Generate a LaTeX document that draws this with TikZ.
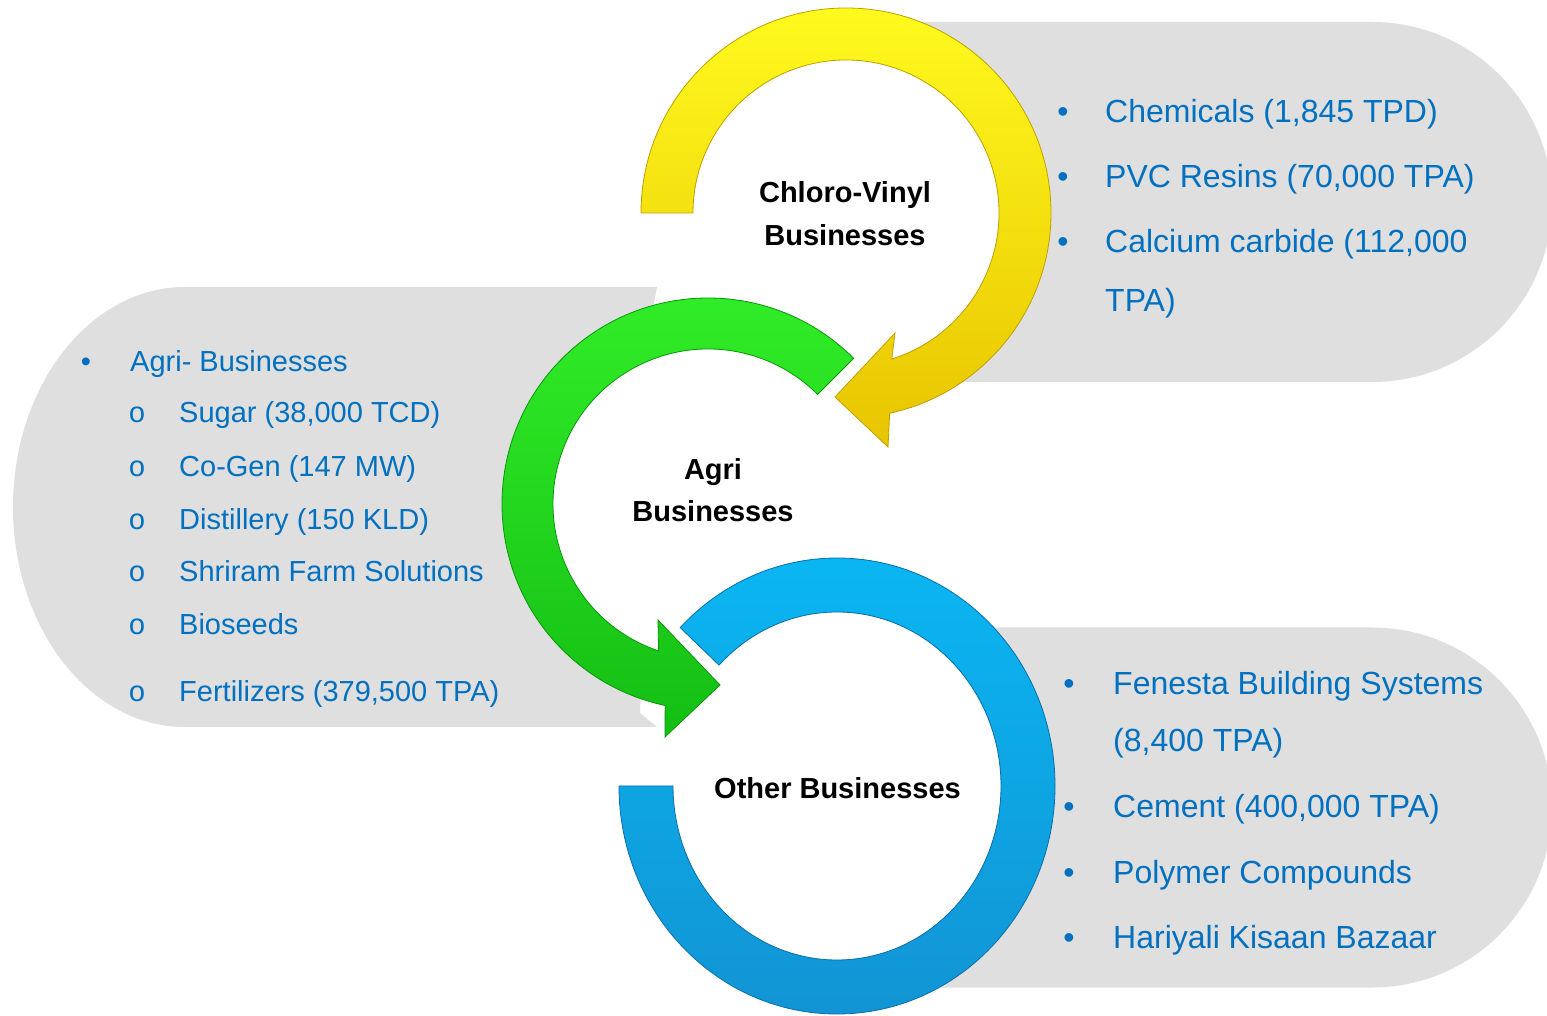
\documentclass[tikz,border=0pt]{standalone}
\usepackage{fontspec}
\setmainfont{Liberation Sans}
\newfontfamily\monofont{Liberation Mono}
\definecolor{greybg}{RGB}{223,223,223}
\definecolor{txtblue}{RGB}{0,112,192}
\definecolor{ytop}{RGB}{255,250,30}
\definecolor{ybot}{RGB}{232,196,0}
\definecolor{yedge}{RGB}{190,160,0}
\definecolor{gtop}{RGB}{50,238,40}
\definecolor{gbot}{RGB}{20,190,20}
\definecolor{gedge}{RGB}{10,150,10}
\definecolor{btop}{RGB}{10,182,242}
\definecolor{bbot}{RGB}{18,148,212}
\definecolor{bedge}{RGB}{10,110,170}
\tikzset{
  lab/.style={font=\fontsize{29}{35}\selectfont\bfseries, anchor=base, inner sep=0pt, text=black},
  itemR/.style={font=\fontsize{32}{38}\selectfont, anchor=base west, inner sep=0pt, text=txtblue},
  itemL/.style={font=\fontsize{29}{35}\selectfont, anchor=base west, inner sep=0pt, text=txtblue},
  bulR/.style={font=\fontsize{32}{38}\selectfont, anchor=base, inner sep=0pt, text=txtblue},
  bulL/.style={font=\fontsize{29}{35}\selectfont, anchor=base, inner sep=0pt, text=txtblue},
  subL/.style={font=\monofont\fontsize{29}{35}\selectfont, anchor=base, inner sep=0pt, text=txtblue},
  yring/.style={top color=ytop, bottom color=ybot, draw=yedge, line width=0.8pt},
  gring/.style={top color=gtop, bottom color=gbot, draw=gedge, line width=0.8pt},
  bring/.style={top color=btop, bottom color=bbot, draw=bedge, line width=0.8pt},
}
\begin{document}
\begin{tikzpicture}[x=1pt,y=1pt]
\useasboundingbox (0,0) rectangle (1547,1015);
\fill[white] (0,0) rectangle (1547,1015);

% grey panels
\fill[greybg] (900,993) -- (1372,993) arc[start angle=90,end angle=-90,radius=180] -- (900,633) -- cycle;
\fill[greybg] (905,387.5) -- (1372,387.5) arc[start angle=90,end angle=-90,radius=180] -- (905,27.5) -- cycle;
\fill[greybg] (185,728) -- (657,728) -- (650,690) -- (640,302) -- (657,288) -- (185,288)
   arc[start angle=-90,end angle=-270,x radius=172,y radius=220] -- cycle;

% centres
\coordinate (yc) at (846,802);
\coordinate (gc) at (708,511);
\coordinate (bc) at (837,229);

% white interiors
\fill[white] (yc) circle[radius=153];
\fill[white] (gc) circle[radius=155];
\fill[white] (bc) ellipse[x radius=164,y radius=174];

% yellow arrow
\coordinate (yob) at (888,568);
\coordinate (ytip) at (835,618);
\coordinate (yib) at (895,682);
\path[yring] ([shift={(180:205)}]yc) arc[start angle=180,end angle=-77.7,radius=205]
   -- (yob) -- (ytip) -- (yib) -- ([shift={(-72.6:153)}]yc)
   arc[start angle=-72.6,end angle=180,radius=153] -- cycle;

% green arrow
\coordinate (gob) at (665,278);
\coordinate (gtip) at (720,330);
\coordinate (gib) at (658,395);
\path[gring] ([shift={(45:206)}]gc) arc[start angle=45,end angle=258,radius=206]
   -- (gob) -- (gtip) -- (gib) -- ([shift={(251.4:155)}]gc)
   arc[start angle=251.4,end angle=45,radius=155] -- cycle;

% blue ring
\path[bring] ([shift={(180:218 and 228)}]bc) arc[start angle=180,end angle=496,x radius=218,y radius=228]
   -- ([shift={(136:164 and 174)}]bc)
   arc[start angle=136,end angle=-180,x radius=164,y radius=174] -- cycle;

% centre labels
\node[lab] (cv1) at (845,812) {Chloro-Vinyl};
\node[lab] (cv2) at (845,769) {Businesses};
\node[lab] (ag1) at (713,535) {Agri};
\node[lab] (ag2) at (713,493) {Businesses};
\node[lab] (ot)  at (837.5,216) {Other Businesses};

% top-right list
\node[bulR] (tb1) at (1063,892) {•};
\node[bulR] (tb2) at (1063,827) {•};
\node[bulR] (tb3) at (1063,762) {•};
\node[itemR] (t1) at (1105,892) {Chemicals (1,845 TPD)};
\node[itemR] (t2) at (1105,827) {PVC Resins (70,000 TPA)};
\node[itemR] (t3) at (1105,762) {Calcium carbide (112,000};
\node[itemR] (t4) at (1105,703) {TPA)};

% bottom-right list
\node[bulR] (bb1) at (1069,320) {•};
\node[bulR] (bb2) at (1069,197) {•};
\node[bulR] (bb3) at (1069,132) {•};
\node[bulR] (bb4) at (1069,67) {•};
\node[itemR] (b1) at (1113,320) {Fenesta Building Systems};
\node[itemR] (b2) at (1113,263) {(8,400 TPA)};
\node[itemR] (b3) at (1113,197) {Cement (400,000 TPA)};
\node[itemR] (b4) at (1113,132) {Polymer Compounds};
\node[itemR] (b5) at (1113,67) {Hariyali Kisaan Bazaar};

% left list
\node[bulL] (lb0) at (86,643) {•};
\node[itemL] (l0) at (130,643) {Agri- Businesses};
\node[subL] (lo1) at (137,592) {o};
\node[subL] (lo2) at (137,538) {o};
\node[subL] (lo3) at (137,485) {o};
\node[subL] (lo4) at (137,433) {o};
\node[subL] (lo5) at (137,380) {o};
\node[subL] (lo6) at (137,313) {o};
\node[itemL] (l1) at (179,592) {Sugar (38,000 TCD)};
\node[itemL] (l2) at (179,538) {Co-Gen (147 MW)};
\node[itemL] (l3) at (179,485) {Distillery (150 KLD)};
\node[itemL] (l4) at (179,433) {Shriram Farm Solutions};
\node[itemL] (l5) at (179,380) {Bioseeds};
\node[itemL] (l6) at (179,313) {Fertilizers (379,500 TPA)};
\end{tikzpicture}
\end{document}
